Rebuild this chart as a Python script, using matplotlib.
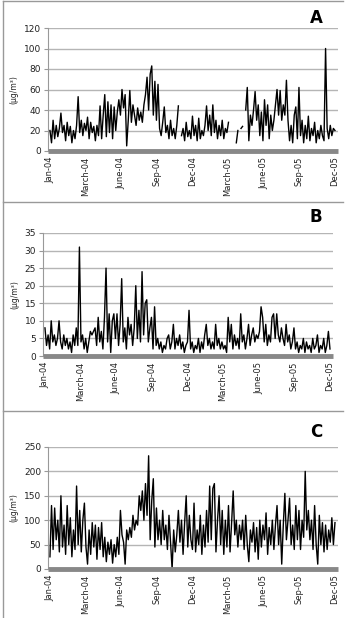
import numpy as np
import matplotlib
matplotlib.use("Agg")
import matplotlib.pyplot as plt
from matplotlib.lines import Line2D

nan = np.nan

# x tick labels (Excel category axis, one label every 91 days)
tick_labels = ["Jan-04", "March-04", "June-04", "Sep-04", "Dec-04",
               "March-05", "June-05", "Sep-05", "Dec-05"]
tick_days = [0, 91, 182, 273, 364, 455, 546, 637, 728]

# samples every 4 days starting 1 Jan 2004
step_days = 4

conc_a = [20, 8, 30, 12, 25, 14, 22, 37, 18, 25,
          10, 28, 15, 24, 8, 20, 12, 25, 53, 18,
          30, 15, 27, 20, 33, 12, 28, 18, 24, 10,
          25, 15, 44, 12, 35, 55, 14, 48, 18, 45,
          12, 43, 20, 38, 50, 35, 60, 42, 55, 5,
          30, 59, 28, 45, 35, 25, 42, 30, 38, 28,
          45, 55, 72, 40, 75, 83, 35, 68, 30, 65,
          22, 15, 28, 43, 18, 25, 12, 30, 15, 22,
          12, 25, 44, nan, 15, 22, 10, 28, 14, 20,
          12, 34, 15, 25, 10, 32, 12, 20, 15, 25,
          44, 20, 35, 15, 45, 18, 30, 12, 25, 15,
          30, 12, 22, 18, 28, nan, nan, nan, nan, 8,
          20, nan, 22, 24, nan, 40, 62, 10, 35, 25,
          40, 58, 30, 45, 15, 38, 10, 50, 25, 45,
          12, 35, 20, 30, 45, 60, 35, 59, 30, 45,
          35, 69, 30, 10, 25, 8, 35, 43, 12, 62,
          15, 30, 8, 25, 12, 34, 10, 22, 15, 28,
          8, 20, 12, 25, 15, 10, 100, 22, 12, 25,
          15, 22, 20]

conc_b = [8, 3, 6, 2, 10, 4, 6, 3, 5, 10,
          4, 2, 6, 3, 5, 2, 4, 1, 6, 3,
          8, 3, 31, 4, 6, 2, 5, 1, 4, 7,
          6, 7, 8, 3, 11, 4, 7, 2, 11, 25,
          4, 12, 1, 10, 12, 5, 12, 3, 9, 22,
          4, 8, 2, 11, 6, 9, 3, 8, 20, 5,
          13, 4, 24, 6, 15, 16, 4, 8, 11, 2,
          14, 3, 5, 2, 4, 1, 3, 2, 5, 6,
          2, 4, 9, 2, 5, 3, 6, 2, 4, 1,
          3, 4, 13, 2, 4, 1, 3, 2, 5, 1,
          4, 2, 6, 9, 3, 5, 2, 4, 2, 9,
          3, 5, 2, 4, 2, 3, 1, 11, 4, 9,
          2, 6, 3, 5, 2, 12, 4, 6, 2, 5,
          9, 3, 6, 8, 4, 6, 5, 7, 14, 11,
          4, 9, 3, 6, 4, 11, 12, 5, 12, 6,
          4, 8, 5, 3, 9, 4, 6, 2, 4, 8,
          2, 4, 1, 3, 2, 5, 1, 4, 2, 3,
          1, 5, 2, 3, 6, 1, 3, 2, 5, 1,
          3, 7, 2]

conc_c = [25, 130, 40, 125, 60, 100, 35, 150, 45, 90,
          30, 130, 50, 105, 25, 80, 40, 170, 50, 120,
          35, 100, 135, 45, 10, 80, 30, 95, 45, 90,
          20, 85, 40, 95, 25, 65, 15, 55, 30, 60,
          12, 50, 25, 65, 30, 120, 70, 55, 10, 80,
          60, 85, 65, 110, 80, 100, 90, 150, 120, 160,
          100, 175, 110, 232, 60, 140, 185, 45, 125, 60,
          100, 50, 120, 60, 90, 40, 110, 55, 0, 80,
          35, 70, 120, 55, 100, 30, 95, 150, 45, 110,
          60, 40, 135, 35, 80, 50, 110, 30, 90, 45,
          120, 55, 170, 60, 165, 175, 35, 100, 150, 50,
          120, 30, 100, 45, 130, 35, 95, 160, 70, 100,
          45, 90, 60, 100, 40, 110, 50, 15, 80, 55,
          95, 35, 85, 20, 100, 45, 90, 60, 115, 30,
          85, 50, 100, 40, 90, 130, 50, 100, 10, 90,
          155, 60, 100, 145, 50, 90, 40, 130, 60, 120,
          40, 100, 65, 200, 80, 120, 60, 100, 40, 130,
          50, 10, 110, 50, 95, 35, 90, 40, 80, 55,
          105, 50, 95]

W, H = 346, 618
fig = plt.figure(figsize=(W / 100, H / 100), dpi=100)

# panel frames
for y0 in [1, 202, 411]:
    fig.add_artist(Line2D([3 / W, 343 / W], [1 - y0 / H, 1 - y0 / H],
                          transform=fig.transFigure, color="#999999", lw=1))
fig.add_artist(Line2D([3 / W, 3 / W], [1 - 1 / H, 0], transform=fig.transFigure,
                      color="#999999", lw=1))

# (values, ymax, ystep, left px, top px, bottom px, label, label y px)
panels = [
    (conc_a, 120, 20, 48, 28, 151, "A", 18),
    (conc_b, 35, 5, 43, 233, 356, "B", 217),
    (conc_c, 250, 50, 48, 447, 569, "C", 432),
]

xmin, xmax = -5, 736
px_per_day = 0.3915

for vals, ymax, ystep, left, top, bottom, letter, ly in panels:
    width = (xmax - xmin) * px_per_day
    ax = fig.add_axes([left / W, 1 - bottom / H, width / W, (bottom - top) / H])
    days = np.arange(len(vals)) * step_days
    ax.plot(days, vals, color="black", lw=1.0)
    ax.set_xlim(xmin, xmax)
    ax.set_ylim(0, ymax)
    ax.set_yticks(np.arange(0, ymax + 1, ystep))
    ax.yaxis.grid(True, color="#b5b5b5", lw=1)
    ax.set_axisbelow(True)
    for s in ["top", "right"]:
        ax.spines[s].set_visible(False)
    ax.spines["left"].set_color("#999999")
    ax.spines["left"].set_linewidth(0.8)
    ax.spines["bottom"].set_color("#888888")
    ax.spines["bottom"].set_linewidth(3.5)
    ax.spines["bottom"].set_capstyle("butt")
    ax.tick_params(axis="y", labelsize=6.5, length=3, color="#999999",
                   labelcolor="#222222", pad=2)
    ax.set_xticks(tick_days)
    ax.set_xticklabels(tick_labels, rotation=90, fontsize=6)
    ax.tick_params(axis="x", length=0, pad=4, labelcolor="#222222")
    ax.set_ylabel("(µg/m³)", fontsize=5.5, labelpad=4, color="#222222")
    fig.text(316 / W, 1 - ly / H, letter, fontsize=12, fontweight="bold",
             ha="center", va="center")

fig.savefig("out.png", dpi=100)
